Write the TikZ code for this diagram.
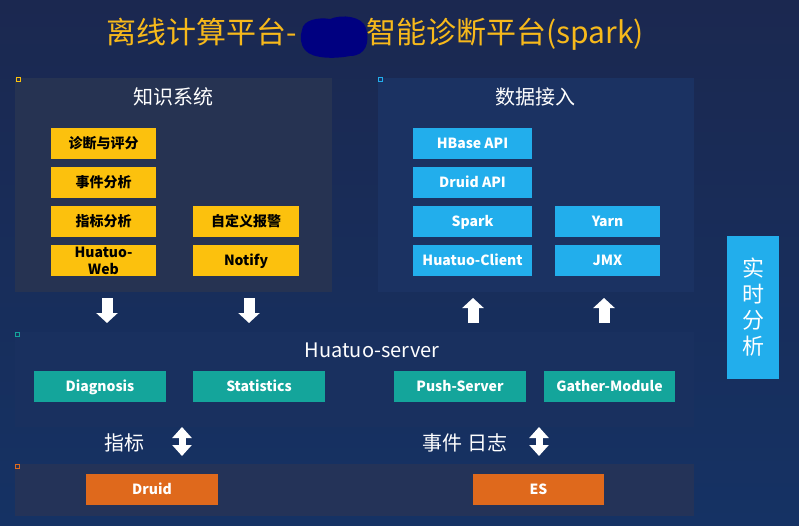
\documentclass[tikz,border=0pt]{standalone}
\usepackage{fontspec}
\setmainfont{Noto Sans CJK SC}
\usetikzlibrary{arrows.meta}
\definecolor{bgtop}{RGB}{27,40,80}
\definecolor{bgbot}{RGB}{21,50,100}
\definecolor{titley}{RGB}{247,185,27}
\definecolor{blob}{RGB}{0,0,128}
\definecolor{pknow}{RGB}{38,51,82}
\definecolor{pdata}{RGB}{27,50,98}
\definecolor{pserv}{RGB}{25,48,95}
\definecolor{pstore}{RGB}{36,51,88}
\definecolor{kyellow}{RGB}{252,193,13}
\definecolor{kblue}{RGB}{34,174,236}
\definecolor{kteal}{RGB}{20,165,155}
\definecolor{korange}{RGB}{223,105,28}
\begin{document}
\begin{tikzpicture}[x=1pt,y=-1pt,
  panel/.style={anchor=north west,inner sep=0,draw=none},
  ptitle/.style={text=white,font=\fontsize{20}{22}\selectfont,inner sep=0},
  boxbase/.style={inner sep=0,minimum height=31pt,font=\bfseries\fontsize{14}{17}\selectfont,align=center},
  oneline/.style={text height=12pt,text depth=2pt},
  ybox/.style={boxbase,fill=kyellow,text=black,minimum width=105pt},
  bbox/.style={boxbase,oneline,fill=kblue,text=white},
  tbox/.style={boxbase,oneline,fill=kteal,text=white},
  obox/.style={boxbase,oneline,fill=korange,text=white,minimum width=131pt},
  marker/.style={draw=#1,line width=1pt,minimum size=4pt,inner sep=0},
  blockdown/.style={white,line width=11pt,-{Triangle[width=21pt,length=10pt]}},
  blockboth/.style={white,line width=7pt,{Triangle[width=19pt,length=11pt]}-{Triangle[width=19pt,length=11pt]}},
  label/.style={text=white,font=\fontsize{20}{22}\selectfont,inner sep=0}
]
% background
\shade[top color=bgtop,bottom color=bgbot] (0,0) rectangle (799,526);
\useasboundingbox (0,0) rectangle (799,526);

% title
\node[anchor=base west,text=titley,font=\fontsize{30}{32}\selectfont,inner sep=0] (titleL) at (106,44) {离线计算平台-};
\fill[blob] (302,30) .. controls (303,20) and (318,17) .. (330,19)
  .. controls (342,14) and (362,16) .. (366,28)
  .. controls (370,42) and (366,56) .. (350,56)
  .. controls (335,59) and (312,59) .. (305,50)
  .. controls (300,44) and (300,36) .. (302,30) -- cycle;
\node[anchor=base west,text=titley,font=\fontsize{30}{32}\selectfont,inner sep=0] (titleR) at (366,44) {智能诊断平台(spark)};

% panels
\node[panel,fill=pknow,minimum width=317pt,minimum height=214pt] (know) at (15,78) {};
\node[panel,fill=pdata,minimum width=316pt,minimum height=214pt] (data) at (378,78) {};
\node[panel,fill=pserv,minimum width=679pt,minimum height=95pt] (serv) at (15,332) {};
\node[panel,fill=pstore,minimum width=679pt,minimum height=52pt] (store) at (15,464) {};

\node[marker=kyellow] (m1) at (18,80) {};
\node[marker=kblue] (m2) at (380,80) {};
\node[marker=kteal] (m3) at (17,334) {};
\node[marker=korange] (m4) at (17,466) {};

% knowledge system
\node[ptitle] (knowT) at (173,97) {知识系统};
\node[ybox,oneline] (k1) at (103.5,143.5) {诊断与评分};
\node[ybox,oneline] (k2) at (103.5,183) {事件分析};
\node[ybox,oneline] (k3) at (103.5,222) {指标分析};
\node[ybox] (k4) at (103.5,260.5) {Huatuo-\\Web};
\node[ybox,oneline,minimum width=106pt] (k5) at (246,222) {自定义报警};
\node[ybox,oneline,minimum width=106pt] (k6) at (246,260.5) {Notify};

% data access
\node[ptitle] (dataT) at (535,97) {数据接入};
\node[bbox,minimum width=119pt] (d1) at (472.5,143.5) {HBase API};
\node[bbox,minimum width=119pt] (d2) at (472.5,183) {Druid API};
\node[bbox,minimum width=119pt] (d3) at (472.5,222) {Spark};
\node[bbox,minimum width=119pt] (d4) at (472.5,260.5) {Huatuo-Client};
\node[bbox,minimum width=105pt] (d5) at (607.5,222) {Yarn};
\node[bbox,minimum width=105pt] (d6) at (607.5,260.5) {JMX};

% realtime
\node[fill=kblue,text=white,minimum width=52pt,minimum height=143pt,inner sep=0,align=center,font=\fontsize{22}{26}\selectfont] (rt) at (753,307.5) {实\\时\\分\\析};

% server
\node[text=white,font=\fontsize{20}{22}\selectfont,inner sep=0] (servT) at (372,350) {Huatuo-server};
\node[tbox,minimum width=132pt] (s1) at (100,386.5) {Diagnosis};
\node[tbox,minimum width=132pt] (s2) at (259,386.5) {Statistics};
\node[tbox,minimum width=132pt] (s3) at (460,386.5) {Push-Server};
\node[tbox,minimum width=131pt] (s4) at (609.5,386.5) {Gather-Module};

% storage
\node[obox,minimum width=132pt] (o1) at (152,489.5) {Druid};
\node[obox] (o2) at (538.5,489.5) {ES};

% arrows between layers
\coordinate (a1s) at (107,298); \coordinate (a1e) at (107,323);
\coordinate (a2s) at (249,298); \coordinate (a2e) at (249,323);
\coordinate (a3s) at (473,323); \coordinate (a3e) at (473,298);
\coordinate (a4s) at (604,323); \coordinate (a4e) at (604,298);
\draw[blockdown] (a1s) -- (a1e);
\draw[blockdown] (a2s) -- (a2e);
\draw[blockdown] (a3s) -- (a3e);
\draw[blockdown] (a4s) -- (a4e);

\node[label] (lz) at (124,443) {指标};
\node[label] (lr) at (465,443) {事件 日志};
\coordinate (b1s) at (182,427); \coordinate (b1e) at (182,456);
\coordinate (b2s) at (539,427); \coordinate (b2e) at (539,456);
\draw[blockboth] (b1s) -- (b1e);
\draw[blockboth] (b2s) -- (b2e);
\end{tikzpicture}
\end{document}
